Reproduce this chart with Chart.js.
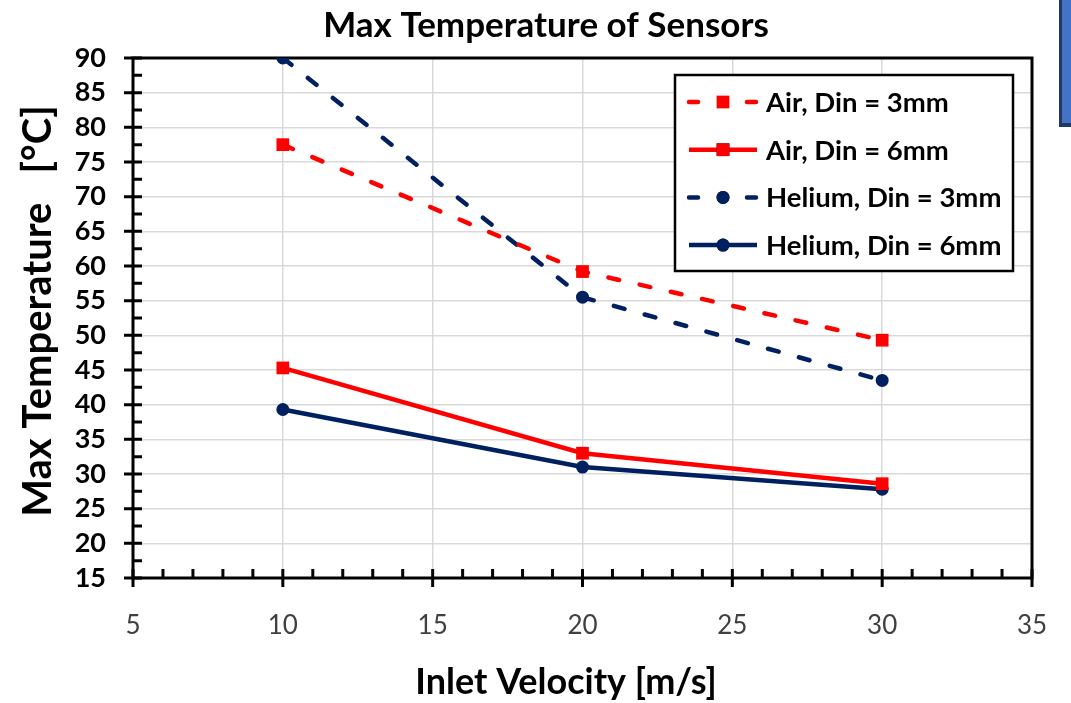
<!DOCTYPE html>
<html>
<head>
<meta charset="utf-8">
<title>Max Temperature of Sensors</title>
<script src="https://cdn.jsdelivr.net/npm/chart.js@4.4.0/dist/chart.umd.min.js"></script>
<style>
  html, body { margin: 0; padding: 0; background: #fff; overflow: hidden; }
  #wrap { position: relative; width: 1071px; height: 703px; }
  /* corner of the neighbouring slide shape */
  #tab {
    position: absolute; left: 1059px; top: -4px; width: 20px; height: 127px;
    background: #4472c4; border-left: 3px solid #1f3864; border-bottom: 4px solid #1f3864;
  }
</style>
</head>
<body>
<div id="wrap">
  <canvas id="chart" width="1071" height="703"></canvas>
  <div id="tab"></div>
</div>
<script>
// inlet velocity [m/s]
const velocity = [10, 20, 30];
const seriesNames = ['Air, Din = 3mm', 'Air, Din = 6mm', 'Helium, Din = 3mm', 'Helium, Din = 6mm'];
// max temperature [°C]
const air3mm = [77.5, 59.2, 49.3];
const air6mm = [45.3, 33.0, 28.6];
const helium3mm = [90.0, 55.5, 43.5];
const helium6mm = [39.3, 31.0, 27.8];

const chartTitle = 'Max Temperature of Sensors';
const xTitle = 'Inlet Velocity [m/s]';
const yTitle = 'Max Temperature   [°C]';

const FONT = 'Lato, "Open Sans", sans-serif';
const RED = '#ff0000';
const NAVY = '#002060';

function points(values) {
    return velocity.map(function(v, i) { return { x: v, y: values[i] }; });
}

function series(label, values, color, dashed, marker) {
    return {
        label: label,
        data: points(values),
        borderColor: color,
        backgroundColor: color,
        borderWidth: 4.5,
        borderDash: dashed ? [11, 21] : [],
        borderCapStyle: dashed ? 'round' : 'butt',
        pointStyle: marker,
        pointRadius: marker === 'rect' ? 9 : 6.5,
        pointHoverRadius: marker === 'rect' ? 9 : 6.5,
        pointBorderWidth: 0,
        tension: 0
    };
}

// frame round the plot plus tick marks (major ones cross the axis, minor ones point inward)
const axisFrame = {
    id: 'axisFrame',
    beforeDatasetsDraw: function(chart) {
        const ctx = chart.ctx;
        const a = chart.chartArea;
        const xs = chart.scales.x;
        const ys = chart.scales.y;
        ctx.save();
        ctx.strokeStyle = '#000';
        ctx.lineWidth = 3;
        ctx.lineCap = 'butt';
        ctx.strokeRect(a.left, a.top, a.right - a.left, a.bottom - a.top);
        ctx.beginPath();
        for (let v = xs.min; v <= xs.max; v += 1) {
            const px = xs.getPixelForValue(v);
            if ((v - xs.min) % 5 === 0) {
                ctx.moveTo(px, a.bottom + 9);
                ctx.lineTo(px, a.bottom - 9);
            } else {
                ctx.moveTo(px, a.bottom);
                ctx.lineTo(px, a.bottom - 9);
            }
        }
        for (let v = ys.min; v <= ys.max; v += 2.5) {
            const py = ys.getPixelForValue(v);
            if ((v - ys.min) % 5 === 0) {
                ctx.moveTo(a.left - 9, py);
                ctx.lineTo(a.left + 9, py);
            } else {
                ctx.moveTo(a.left, py);
                ctx.lineTo(a.left + 9, py);
            }
        }
        ctx.stroke();
        ctx.restore();
    }
};

// chart and axis titles
const titles = {
    id: 'titles',
    afterDraw: function(chart) {
        const ctx = chart.ctx;
        ctx.save();
        ctx.fillStyle = '#000';
        ctx.textAlign = 'center';
        ctx.textBaseline = 'alphabetic';
        ctx.font = 'bold 35px ' + FONT;
        ctx.fillText(chartTitle, 546, 37);
        ctx.font = 'bold 36px ' + FONT;
        ctx.fillText(xTitle, 566, 694);
        ctx.translate(51, 311);
        ctx.rotate(-Math.PI / 2);
        ctx.font = 'bold 40px ' + FONT;
        ctx.fillText(yTitle, 0, 0);
        ctx.restore();
    }
};

// boxed legend with line + marker samples
const boxLegend = {
    id: 'boxLegend',
    afterDraw: function(chart) {
        const ctx = chart.ctx;
        const box = { left: 675, top: 75, right: 1013, bottom: 271 };
        ctx.save();
        ctx.fillStyle = '#fff';
        ctx.fillRect(box.left, box.top, box.right - box.left, box.bottom - box.top);
        ctx.strokeStyle = '#000';
        ctx.lineWidth = 2.5;
        ctx.strokeRect(box.left, box.top, box.right - box.left, box.bottom - box.top);
        chart.data.datasets.forEach(function(ds, i) {
            const y = 102 + i * 47.7;
            ctx.strokeStyle = ds.borderColor;
            ctx.lineWidth = ds.borderWidth;
            ctx.lineCap = ds.borderCapStyle;
            ctx.setLineDash(ds.borderDash.length ? [9, 49] : []);
            ctx.beginPath();
            ctx.moveTo(689, y);
            ctx.lineTo(757, y);
            ctx.stroke();
            ctx.setLineDash([]);
            Chart.helpers.drawPoint(ctx, {
                pointStyle: ds.pointStyle,
                radius: ds.pointRadius,
                borderWidth: 0
            }, 723, y);
            ctx.fillStyle = ds.backgroundColor;
            ctx.fill();
            ctx.fillStyle = '#000';
            ctx.font = 'bold 27.5px ' + FONT;
            ctx.textAlign = 'left';
            ctx.textBaseline = 'middle';
            ctx.fillText(ds.label, 766, y + 1);
        });
        ctx.restore();
    }
};

const ctx = document.getElementById('chart').getContext('2d');
const chart = new Chart(ctx, {
    type: 'line',
    data: {
        datasets: [
            series(seriesNames[0], air3mm, RED, true, 'rect'),
            series(seriesNames[1], air6mm, RED, false, 'rect'),
            series(seriesNames[2], helium3mm, NAVY, true, 'circle'),
            series(seriesNames[3], helium6mm, NAVY, false, 'circle')
        ]
    },
    options: {
        responsive: false,
        animation: false,
        devicePixelRatio: 1,
        layout: { padding: { top: 58, right: 39, left: 0, bottom: 0 } },
        plugins: {
            legend: { display: false },
            title: { display: false },
            tooltip: { enabled: false }
        },
        scales: {
            x: {
                type: 'linear',
                min: 5,
                max: 35,
                afterFit: function(scale) { scale.height = 125; },
                // invisible tick length keeps the labels clear of the axis
                grid: { color: '#d9d9d9', lineWidth: 1.5, drawTicks: true, tickLength: 29, tickColor: 'rgba(0,0,0,0)' },
                border: { display: false },
                ticks: {
                    stepSize: 5,
                    padding: 3,
                    autoSkip: false,
                    color: '#404040',
                    font: { family: FONT, size: 26 }
                }
            },
            y: {
                min: 15,
                max: 90,
                afterFit: function(scale) { scale.width = 133; },
                grid: { color: '#d9d9d9', lineWidth: 1.5, drawTicks: true, tickLength: 24, tickColor: 'rgba(0,0,0,0)' },
                border: { display: false },
                ticks: {
                    stepSize: 5,
                    padding: 3,
                    autoSkip: false,
                    color: '#000',
                    font: { family: FONT, size: 27, weight: 'bold' }
                }
            }
        }
    },
    plugins: [axisFrame, titles, boxLegend]
});
</script>
</body>
</html>
